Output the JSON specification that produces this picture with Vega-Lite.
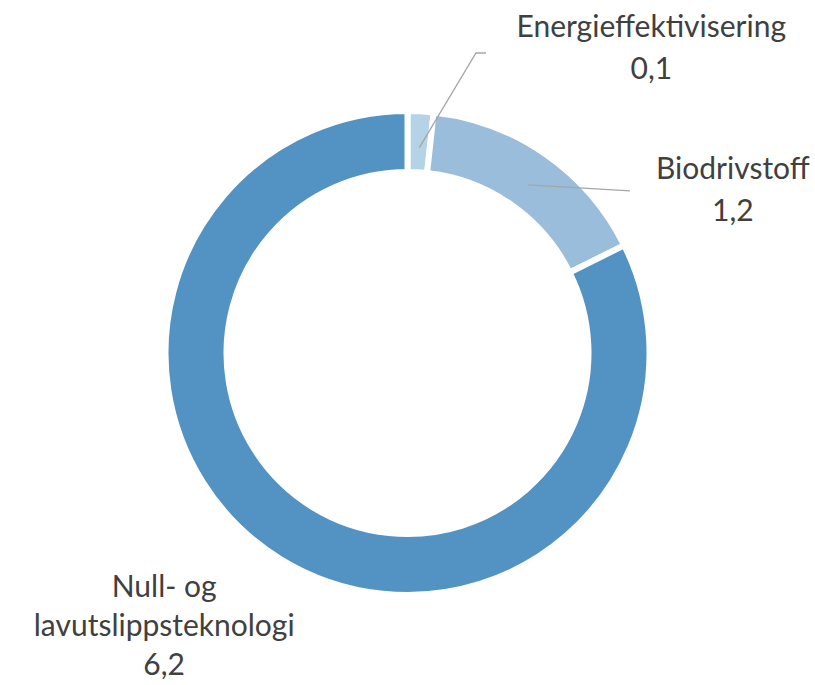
{
  "$schema": "https://vega.github.io/schema/vega-lite/v6.json",
  "width": 815,
  "height": 685,
  "autosize": {"type": "fit", "contains": "padding"},
  "padding": {"left": 0, "right": 0, "top": 17, "bottom": 0},
  "background": "white",
  "config": {"view": {"stroke": null}},
  "datasets": {
    "andeler": [
      {"kategori": "Energieffektivisering", "navn": "Energieffektivisering", "verdi": 0.13, "nr": 1},
      {"kategori": "Biodrivstoff", "navn": "Biodrivstoff", "verdi": 1.2, "nr": 2},
      {"kategori": "Null- og lavutslippsteknologi", "navn": "Null- og\nlavutslippsteknologi", "verdi": 6.2, "nr": 3}
    ],
    "hjelpelinjer": [
      {"kategori": "Energieffektivisering", "punkt": 1, "x": 11.8, "y": 211},
      {"kategori": "Energieffektivisering", "punkt": 2, "x": 68.5, "y": 308.3},
      {"kategori": "Energieffektivisering", "punkt": 3, "x": 78.5, "y": 308.3},
      {"kategori": "Biodrivstoff", "punkt": 1, "x": 120.8, "y": 172.7},
      {"kategori": "Biodrivstoff", "punkt": 2, "x": 222.5, "y": 166.7}
    ]
  },
  "layer": [
    {
      "data": {"name": "andeler"},
      "mark": {"type": "arc", "outerRadius": 242, "innerRadius": 181, "stroke": "white", "strokeWidth": 6},
      "encoding": {
        "theta": {"field": "verdi", "type": "quantitative", "stack": true},
        "order": {"field": "nr", "type": "quantitative"},
        "color": {
          "field": "kategori",
          "type": "nominal",
          "scale": {
            "domain": ["Energieffektivisering", "Biodrivstoff", "Null- og lavutslippsteknologi"],
            "range": ["#b5d3e7", "#9abddb", "#5393c4"]
          },
          "legend": null
        }
      }
    },
    {
      "data": {"name": "hjelpelinjer"},
      "mark": {"type": "line", "color": "#a6a6a6", "strokeWidth": 1.3},
      "encoding": {
        "x": {"field": "x", "type": "quantitative", "scale": {"domain": [-407.5, 407.5], "nice": false, "zero": false}, "axis": null},
        "y": {"field": "y", "type": "quantitative", "scale": {"domain": [-334, 334], "nice": false, "zero": false}, "axis": null},
        "detail": {"field": "kategori"},
        "order": {"field": "punkt", "type": "quantitative"}
      }
    },
    {
      "data": {"name": "andeler"},
      "transform": [{"calculate": "datum.navn + '\\n' + replace(format(datum.verdi, '.1f'), '.', ',')", "as": "etikett"}],
      "mark": {"type": "text", "radius": 310, "dx": 227, "dy": -6.5, "align": "center", "baseline": "alphabetic", "lineBreak": "\n", "font": "Lato", "fontSize": 30, "lineHeight": 42, "fill": "#404040"},
      "encoding": {
        "theta": {"field": "verdi", "type": "quantitative", "stack": true},
        "order": {"field": "nr", "type": "quantitative"},
        "text": {"condition": {"test": "datum.nr == 1", "field": "etikett"}, "value": ""}
      }
    },
    {
      "data": {"name": "andeler"},
      "transform": [{"calculate": "datum.navn + '\\n' + replace(format(datum.verdi, '.1f'), '.', ',')", "as": "etikett"}],
      "mark": {"type": "text", "radius": 310, "dx": 148, "dy": 80, "align": "center", "baseline": "alphabetic", "lineBreak": "\n", "font": "Lato", "fontSize": 30, "lineHeight": 42, "fill": "#404040"},
      "encoding": {
        "theta": {"field": "verdi", "type": "quantitative", "stack": true},
        "order": {"field": "nr", "type": "quantitative"},
        "text": {"condition": {"test": "datum.nr == 2", "field": "etikett"}, "value": ""}
      }
    },
    {
      "data": {"name": "andeler"},
      "transform": [{"calculate": "datum.navn + '\\n' + replace(format(datum.verdi, '.1f'), '.', ',')", "as": "etikett"}],
      "mark": {"type": "text", "radius": 310, "dx": -80, "dy": -19.5, "align": "center", "baseline": "alphabetic", "lineBreak": "\n", "font": "Lato", "fontSize": 30, "lineHeight": 39, "fill": "#404040"},
      "encoding": {
        "theta": {"field": "verdi", "type": "quantitative", "stack": true},
        "order": {"field": "nr", "type": "quantitative"},
        "text": {"condition": {"test": "datum.nr == 3", "field": "etikett"}, "value": ""}
      }
    }
  ]
}
